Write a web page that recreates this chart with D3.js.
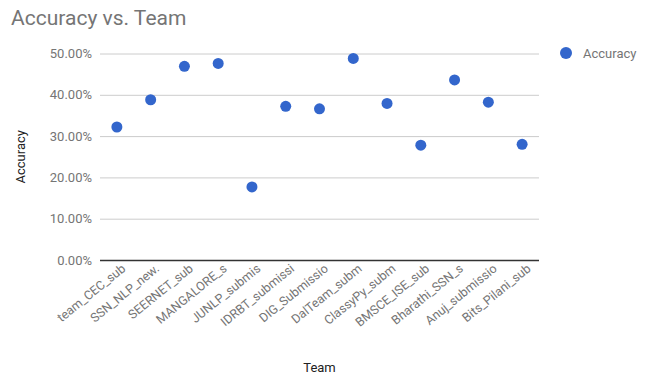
<!DOCTYPE html>
<html>
<head>
<meta charset="utf-8">
<script src="https://d3js.org/d3.v7.min.js"></script>
<style>
  body { margin: 0; background: #fff; }
  text { font-family: Roboto, Arial, sans-serif; }
</style>
</head>
<body>
<div id="chart"></div>
<script>
// data
var teams = ["team_CEC_sub", "SSN_NLP_new.", "SEERNET_sub", "MANGALORE_s", "JUNLP_submis",
  "IDRBT_submissi", "DIG_Submissio", "DalTeam_subm", "ClassyPy_subm", "BMSCE_ISE_sub",
  "Bharathi_SSN_s", "Anuj_submissio", "Bits_Pilani_sub"];
var accuracy = [0.322, 0.388, 0.469, 0.476, 0.177, 0.372, 0.366, 0.488, 0.379, 0.278, 0.436, 0.382, 0.280];
var yTicks = [0, 0.1, 0.2, 0.3, 0.4, 0.5];

var width = 650, height = 375;
var margin = {t: 53.5, r: 111, b: 115, l: 100};
var w = width - margin.l - margin.r,
    h = height - margin.t - margin.b;

var svg = d3.select("#chart").append("svg")
  .attr("width", width)
  .attr("height", height);

var data = teams.map(function(t, i) { return {team: t, acc: accuracy[i]}; });

var x = d3.scalePoint().domain(teams).range([0, w]).padding(0.5);
var y = d3.scaleLinear().domain([0, 0.5]).range([h, 0]);

var g = svg.append("g").attr("transform", "translate(" + margin.l + "," + margin.t + ")");

// title
svg.append("text")
  .attr("x", 11).attr("y", 25)
  .attr("font-size", 21)
  .attr("fill", "#757575")
  .text("Accuracy vs. Team");

// gridlines + y labels
var yAxis = d3.axisLeft(y).tickValues(yTicks).tickSize(-w).tickPadding(8)
  .tickFormat(d3.format(".2%"));
var ya = g.append("g").attr("class", "axis-y").call(yAxis);
ya.select(".domain").remove();
ya.selectAll("line").attr("stroke", function(d) { return d === 0 ? "#333" : "#ccc"; })
  .attr("stroke-width", function(d) { return d === 0 ? 1.5 : 1; });
ya.selectAll("text").attr("fill", "#757575").attr("font-size", 13);

// x labels rotated
var xAxis = d3.axisBottom(x).tickSize(0).tickPadding(0);
var xa = g.append("g").attr("transform", "translate(0," + h + ")").call(xAxis);
xa.select(".domain").remove();
xa.selectAll("text")
  .attr("fill", "#757575")
  .attr("font-size", 12.5)
  .attr("text-anchor", "end")
  .attr("dy", null)
  .attr("transform", "translate(9,10) rotate(-39)");

// axis titles
svg.append("text")
  .attr("x", margin.l + w / 2).attr("y", 372)
  .attr("text-anchor", "middle").attr("font-size", 13).attr("fill", "#222")
  .text("Team");
svg.append("text")
  .attr("transform", "translate(25," + (margin.t + h / 2) + ") rotate(-90)")
  .attr("text-anchor", "middle").attr("font-size", 13).attr("fill", "#222")
  .text("Accuracy");

// points
g.selectAll(".dot").data(data).enter().append("circle")
  .attr("class", "dot")
  .attr("cx", function(d) { return x(d.team); })
  .attr("cy", function(d) { return y(d.acc); })
  .attr("r", 5.5)
  .attr("fill", "#3366cc");

// legend
var leg = svg.append("g").attr("transform", "translate(566,53)");
leg.append("circle").attr("r", 6).attr("fill", "#3366cc");
leg.append("text").attr("x", 17).attr("y", 4.5).attr("font-size", 13).attr("fill", "#757575").text("Accuracy");
</script>
</body>
</html>
